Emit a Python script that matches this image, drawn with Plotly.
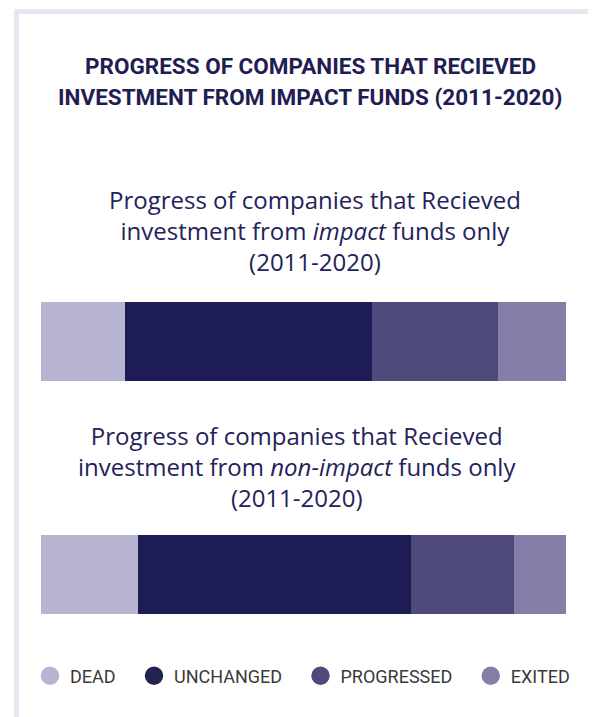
import plotly.graph_objects as go

# ---- data ----
categories = ["DEAD", "UNCHANGED", "PROGRESSED", "EXITED"]
impact_only = [16, 47, 24, 13]
non_impact_only = [18.5, 52, 19.5, 10]
colors = ["#b6b4d0", "#1d1c55", "#4e4a7c", "#847fa8"]
legend_colors = ["#b6b4d0", "#232352", "#4e4a7c", "#847fa8"]

main_title = ["PROGRESS OF COMPANIES THAT RECIEVED",
              "INVESTMENT FROM IMPACT FUNDS (2011-2020)"]
sub1 = "Progress of companies that Recieved<br>investment from <i>impact</i> funds only<br>(2011-2020)"
sub2 = "Progress of companies that Recieved<br>investment from <i>non-impact</i> funds only<br>(2011-2020)"

# page is 596x717; browser body margin is 8px
OFF = 8
W, H = 596 - OFF, 717 - OFF


def px(x):
    return (x - OFF) / W


def py(y):
    return 1 - (y - OFF) / H


fig = go.Figure()

for i, cat in enumerate(categories):
    fig.add_trace(go.Bar(y=["impact"], x=[impact_only[i]], orientation="h",
                         marker=dict(color=colors[i], line=dict(width=0)),
                         name=cat, showlegend=False, xaxis="x", yaxis="y",
                         hoverinfo="x+name"))
    fig.add_trace(go.Bar(y=["non-impact"], x=[non_impact_only[i]], orientation="h",
                         marker=dict(color=colors[i], line=dict(width=0)),
                         name=cat, showlegend=False, xaxis="x2", yaxis="y2",
                         hoverinfo="x+name"))

PAD = "\u00a0\u00a0\u00a0"
for i, cat in enumerate(categories):
    fig.add_trace(go.Scatter(x=[None], y=[None], mode="markers", name=cat + PAD,
                             marker=dict(symbol="circle", size=16, color=legend_colors[i],
                                         line=dict(width=2.5, color=legend_colors[i])),
                             xaxis="x", yaxis="y", showlegend=True))

annotations = []
title_font = dict(family="Roboto", size=22.5, color="#1f1e52", weight="bold")
for line, yc in zip(main_title, [66, 97]):
    annotations.append(dict(text="<b>" + line + "</b>", x=px(310), y=py(yc),
                            xref="paper", yref="paper", xanchor="center", yanchor="middle",
                            showarrow=False, font=title_font))

sub_font = dict(family="Open Sans", size=24, color="#23225a")
annotations.append(dict(text=sub1, x=px(314.5), y=py(231), xref="paper", yref="paper",
                        xanchor="center", yanchor="middle", showarrow=False, font=sub_font,
                        align="center"))
annotations.append(dict(text=sub2, x=px(296.5), y=py(466), xref="paper", yref="paper",
                        xanchor="center", yanchor="middle", showarrow=False, font=sub_font,
                        align="center"))

shapes = [
    dict(type="rect", xref="paper", yref="paper", x0=px(14), x1=px(600),
         y0=py(14), y1=py(9), fillcolor="#e7e6f1", line=dict(width=0), layer="below"),
    dict(type="rect", xref="paper", yref="paper", x0=px(14), x1=px(19),
         y0=py(720), y1=py(9), fillcolor="#e7e6f1", line=dict(width=0), layer="below"),
]

bar_x = [px(41), px(566)]

fig.update_layout(
    width=W, height=H,
    margin=dict(l=0, r=0, t=0, b=0),
    paper_bgcolor="white", plot_bgcolor="white",
    barmode="stack", bargap=0,
    xaxis=dict(domain=bar_x, range=[0, 100], visible=False, fixedrange=True),
    yaxis=dict(domain=[py(381), py(302)], range=[-0.5, 0.5], visible=False, fixedrange=True),
    xaxis2=dict(domain=bar_x, range=[0, 100], visible=False, fixedrange=True, anchor="y2"),
    yaxis2=dict(domain=[py(614), py(535)], range=[-0.5, 0.5], visible=False, fixedrange=True,
                anchor="x2"),
    showlegend=True,
    legend=dict(orientation="h", x=px(30), xanchor="left", y=py(676), yanchor="middle",
                traceorder="normal",
                font=dict(family="Roboto", size=18, color="#3a3a3a"),
                bgcolor="rgba(0,0,0,0)", itemclick=False, itemdoubleclick=False),
    annotations=annotations,
    shapes=shapes,
)

fig.write_html("out.html")
